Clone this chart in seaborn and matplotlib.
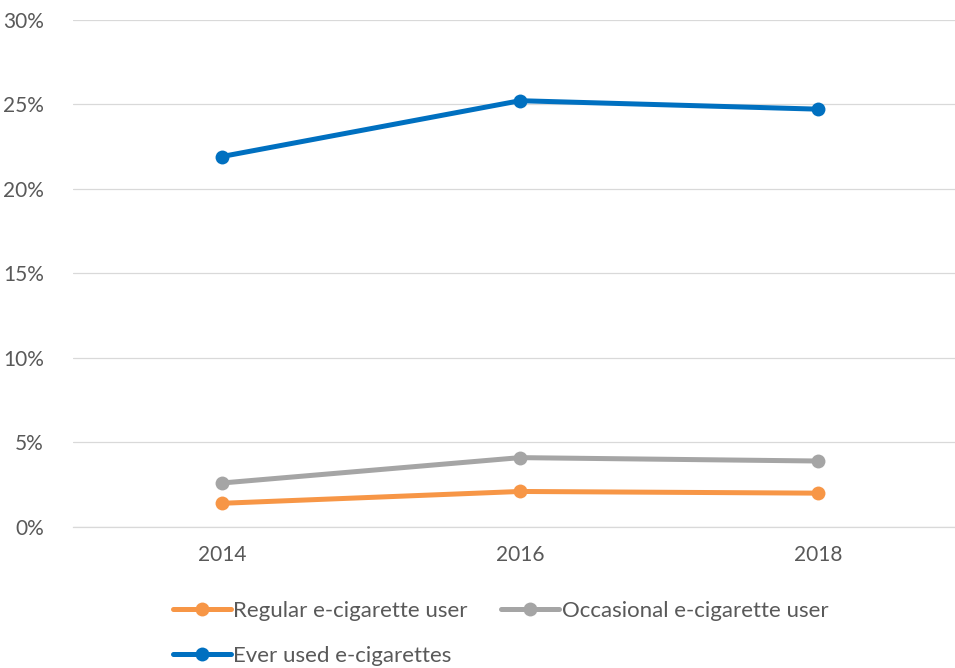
import matplotlib
matplotlib.use("Agg")
import matplotlib.pyplot as plt
import seaborn as sns
import pandas as pd
from matplotlib.ticker import FuncFormatter

# Survey years and share of respondents (%)
years = ["2014", "2016", "2018"]
regular_user = [1.4, 2.1, 2.0]
occasional_user = [2.6, 4.1, 3.9]
ever_used = [21.9, 25.2, 24.7]

series_names = ["Regular e-cigarette user", "Occasional e-cigarette user", "Ever used e-cigarettes"]
series_values = [regular_user, occasional_user, ever_used]
series_colors = ["#F79646", "#A5A5A5", "#0070C0"]

rows = []
for name, vals in zip(series_names, series_values):
    for yr, v in zip(years, vals):
        rows.append({"Year": yr, "Share": v, "Series": name})
df = pd.DataFrame(rows)

sns.set_theme(style="white")
plt.rcParams["font.family"] = ["Lato", "DejaVu Sans"]

fig = plt.figure(figsize=(9.55, 6.68), dpi=100)
ax = fig.add_axes([0.0764, 0.2111, 0.9362, 0.7597])

sns.lineplot(
    data=df, x="Year", y="Share", hue="Series",
    palette=dict(zip(series_names, series_colors)),
    hue_order=series_names,
    marker="o", markersize=10, markeredgewidth=0,
    linewidth=3.6, ax=ax, legend=True,
)

ax.set_xlim(-0.5, 2.5)
ax.set_ylim(0, 30)
ax.set_yticks(range(0, 31, 5))
ax.yaxis.set_major_formatter(FuncFormatter(lambda v, _: f"{v:.0f}%"))
ax.grid(axis="y", color="#D9D9D9", linewidth=0.9)
ax.grid(axis="x", visible=False)
ax.set_axisbelow(True)
for side in ["top", "right", "left"]:
    ax.spines[side].set_visible(False)
ax.spines["bottom"].set_color("#D9D9D9")
ax.spines["bottom"].set_linewidth(0.9)
ax.set_xlabel("")
ax.set_ylabel("")
ax.tick_params(axis="both", length=0, labelsize=15, colors="#595959")
ax.tick_params(axis="y", pad=21)
ax.tick_params(axis="x", pad=13)

handles, labels = ax.get_legend_handles_labels()
lookup = dict(zip(labels, handles))
ax.get_legend().remove()
order = [series_names[0], series_names[2], series_names[1]]
fig.legend(
    [lookup[n] for n in order], order,
    ncol=2, frameon=False, fontsize=16, labelcolor="#595959",
    handlelength=2.6, handletextpad=0.12, columnspacing=1.5,
    labelspacing=1.12,
    loc="upper left", bbox_to_anchor=(173 / 955, 1 - 601 / 668),
    borderaxespad=0, borderpad=0,
)

fig.savefig("out.png", dpi=100)
